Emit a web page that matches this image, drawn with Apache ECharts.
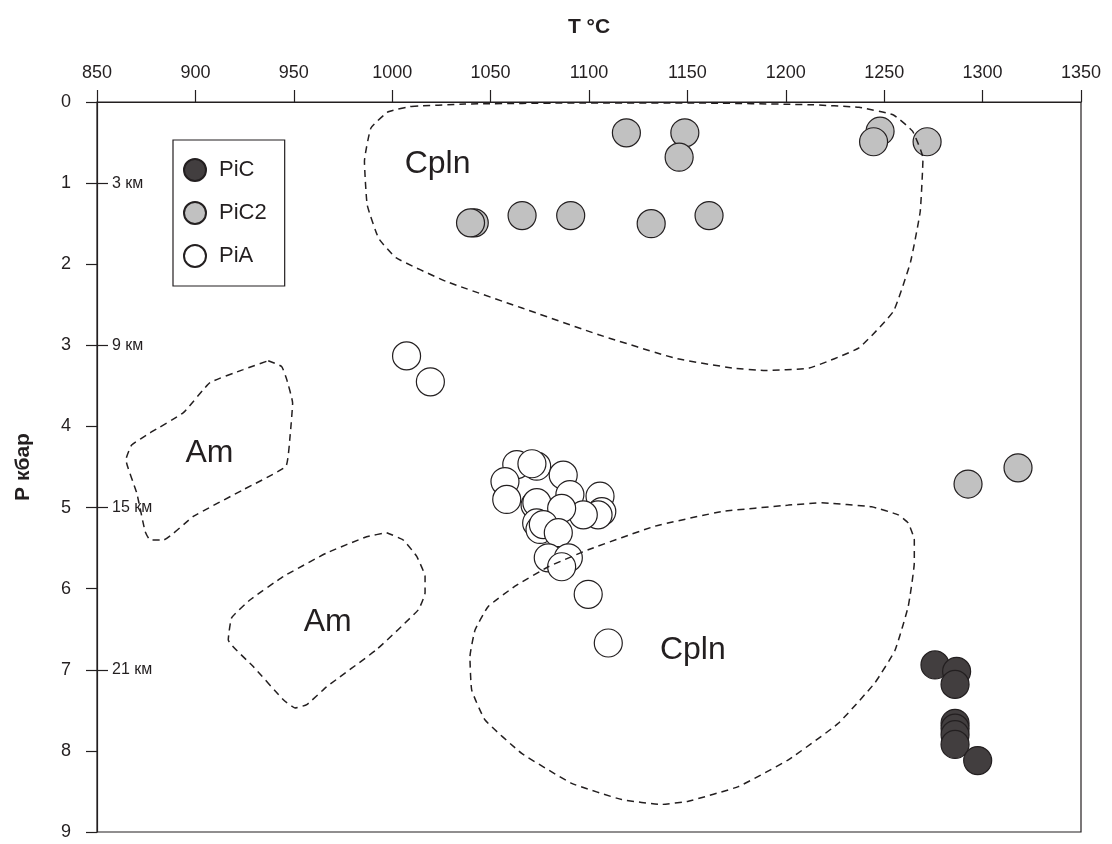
<!DOCTYPE html>
<html>
<head>
<meta charset="utf-8">
<script src="https://cdn.jsdelivr.net/npm/echarts@6/dist/echarts.min.js"></script>
<style>html,body{margin:0;padding:0;background:#fff;}#c{width:1112px;height:844px;}</style>
</head>
<body>
<div id="c"></div>
<script>
// ---- data (T °C, P kbar) ----
const xTicks = [850, 1350, 50];
const yTicks = [0, 9, 1];
const depthTicks = [1, 3, 5, 7];
const depthLabels = ['3 км', '9 км', '15 км', '21 км'];

const PiC = [[1275.8,6.94],[1286.8,7.02],[1286,7.18],[1286,7.66],[1286,7.72],[1286,7.80],[1286,7.92],[1297.5,8.12]];
const PiC2 = [[1119,0.38],[1148.7,0.38],[1145.8,0.68],[1247.9,0.36],[1244.6,0.49],[1271.8,0.49],
  [1041.7,1.49],[1039.8,1.49],[1066,1.40],[1090.7,1.40],[1131.6,1.50],[1161,1.40],[1292.6,4.71],[1318,4.51]];
const PiA = [[1007.3,3.13],[1019.4,3.45],
  [1063.3,4.47],[1073.4,4.49],[1071,4.46],[1086.9,4.60],[1057.3,4.68],[1058.2,4.90],[1072.6,4.97],[1073.5,4.94],
  [1090.3,4.84],[1105.6,4.86],[1106.5,5.05],[1104.6,5.09],[1097.1,5.09],[1086.1,5.01],[1073.4,5.19],[1075.1,5.27],
  [1076.8,5.21],[1084.4,5.31],[1079.3,5.62],[1089.5,5.62],[1086.1,5.73],[1099.6,6.07],[1109.8,6.67]];

const cplnTop = [[1009.7,0.054],[1036.9,0.025],[1095.2,0.012],[1153.5,0.012],[1211.9,0.033],[1237.2,0.066],[1254.7,0.16],
  [1264.4,0.36],[1269.7,0.69],[1268.3,1.35],[1263.4,1.97],[1254.7,2.58],[1237.2,3.03],[1211.9,3.28],[1188.6,3.31],
  [1173,3.28],[1143.9,3.16],[1105,2.87],[1066,2.54],[1027.2,2.21],[1001.9,1.92],[993.1,1.68],[987.3,1.27],
  [985.9,0.73],[989.2,0.32],[998,0.12],[1009.7,0.054]];
const cplnBottom = [[1218.2,4.94],[1243.6,4.99],[1257.2,5.09],[1262.2,5.19],[1265.3,5.40],[1265.3,5.68],[1262.2,6.22],
  [1255.5,6.76],[1245.3,7.16],[1226.7,7.66],[1201.3,8.11],[1175.9,8.44],[1150.5,8.62],[1136.9,8.66],[1116.6,8.60],
  [1091.2,8.40],[1065.8,8.03],[1047.2,7.62],[1040.4,7.25],[1039.5,6.84],[1042.1,6.51],[1048.8,6.22],[1062.4,5.97],
  [1079.3,5.73],[1099.6,5.52],[1133.5,5.23],[1167.4,5.05],[1201.3,4.97],[1218.2,4.94]];
const amUpper = [[937,3.19],[943.8,3.26],[946.4,3.42],[949.4,3.71],[948.1,4.12],[946,4.49],[924.3,4.78],[898.9,5.11],
  [883.7,5.40],[876.9,5.40],[874.4,5.29],[870.2,4.82],[864.7,4.41],[867.6,4.23],[876.9,4.08],[893.9,3.83],
  [907.4,3.46],[924.3,3.30],[937,3.19]];
const amLower = [[997.2,5.31],[1005.6,5.40],[1012.4,5.60],[1016.7,5.85],[1016.7,6.05],[1013.3,6.26],[992.1,6.75],
  [966.7,7.21],[956.6,7.43],[950.6,7.47],[944.7,7.37],[929.4,6.96],[916.7,6.63],[918.4,6.36],[927.7,6.14],
  [944.7,5.85],[966.7,5.56],[987,5.36],[997.2,5.31]];
const regionLabels = [['Cpln',1023.3,0.77],['Cpln',1153,6.77],['Am',907.4,4.33],['Am',967.5,6.42]];

const INK = '#231f20';
const FONT = '"Liberation Sans", Arial, sans-serif';

function outline(data) {
  return { type: 'line', data: data, smooth: 0.12, symbol: 'none', silent: true, z: 5,
    lineStyle: { color: INK, width: 1.5, type: [7, 5] } };
}
function dots(name, data, color) {
  return { type: 'scatter', name: name, data: data, symbolSize: 28, z: 3,
    itemStyle: { color: color, borderColor: INK, borderWidth: 1.2, opacity: 1 } };
}

const chart = echarts.init(document.getElementById('c'));
chart.setOption({
  animation: false,
  backgroundColor: '#fff',
  grid: { left: 97, right: 31, top: 102, bottom: 12, show: true, borderColor: INK, borderWidth: 1.2,
    containLabel: false, outerBoundsMode: 'none' },
  xAxis: {
    type: 'value', position: 'top', min: xTicks[0], max: xTicks[1], interval: xTicks[2],
    name: 'T °C', nameLocation: 'middle', nameGap: 64,
    nameTextStyle: { fontFamily: FONT, fontWeight: 'bold', fontSize: 21, color: INK },
    axisLine: { lineStyle: { color: INK, width: 1.2 } },
    axisTick: { show: true, length: 12, lineStyle: { color: INK, width: 1.2 } },
    axisLabel: { fontFamily: FONT, fontSize: 18, color: INK, margin: 20, formatter: v => String(v) },
    splitLine: { show: false }
  },
  yAxis: [{
    type: 'value', inverse: true, min: yTicks[0], max: yTicks[1], interval: yTicks[2],
    name: 'P кбар', nameLocation: 'middle', nameGap: 63,
    nameTextStyle: { fontFamily: FONT, fontWeight: 'bold', fontSize: 21, color: INK },
    axisLine: { lineStyle: { color: INK, width: 1.2 } },
    axisTick: { show: true, length: 11, lineStyle: { color: INK, width: 1.2 } },
    axisLabel: { fontFamily: FONT, fontSize: 18, color: INK, margin: 26, formatter: v => String(v) },
    splitLine: { show: false }
  }, {
    type: 'value', inverse: true, min: yTicks[0], max: yTicks[1], position: 'left',
    axisLine: { show: false },
    axisTick: { show: true, inside: true, length: 11, customValues: depthTicks, lineStyle: { color: INK, width: 1.2 } },
    axisLabel: { inside: true, margin: 15, fontFamily: FONT, fontSize: 16, color: INK, customValues: depthTicks,
      formatter: function (v) { const i = depthTicks.indexOf(Math.round(v)); return i >= 0 ? depthLabels[i] : ''; } },
    splitLine: { show: false }
  }],
  legend: {
    data: ['PiC', 'PiC2', 'PiA'], orient: 'vertical', left: 173, top: 140,
    icon: 'circle', itemWidth: 22, itemHeight: 22, itemGap: 19,
    padding: [18, 18, 18, 10],
    borderColor: INK, borderWidth: 1.2, backgroundColor: '#fff',
    textStyle: { fontFamily: FONT, fontSize: 22, lineHeight: 22, color: INK, padding: [0, 0, 0, 8] }
  },
  series: [
    outline(cplnTop), outline(cplnBottom), outline(amUpper), outline(amLower),
    dots('PiA', PiA, '#ffffff'),
    dots('PiC2', PiC2, '#c1c1c1'),
    dots('PiC', PiC, '#423e3f'),
    { type: 'scatter', name: 'labels', silent: true, symbol: 'circle', symbolSize: 1,
      itemStyle: { color: '#ffffff', opacity: 1, borderWidth: 0 }, z: 6,
      data: regionLabels.map(r => ({ name: r[0], value: [r[1], r[2]] })),
      label: { show: true, position: [0, 0], align: 'center', verticalAlign: 'middle', opacity: 1,
        formatter: '{b}', fontFamily: FONT, fontSize: 32, color: '#231f20', textBorderWidth: 0 } }
  ]
});
</script>
</body>
</html>
